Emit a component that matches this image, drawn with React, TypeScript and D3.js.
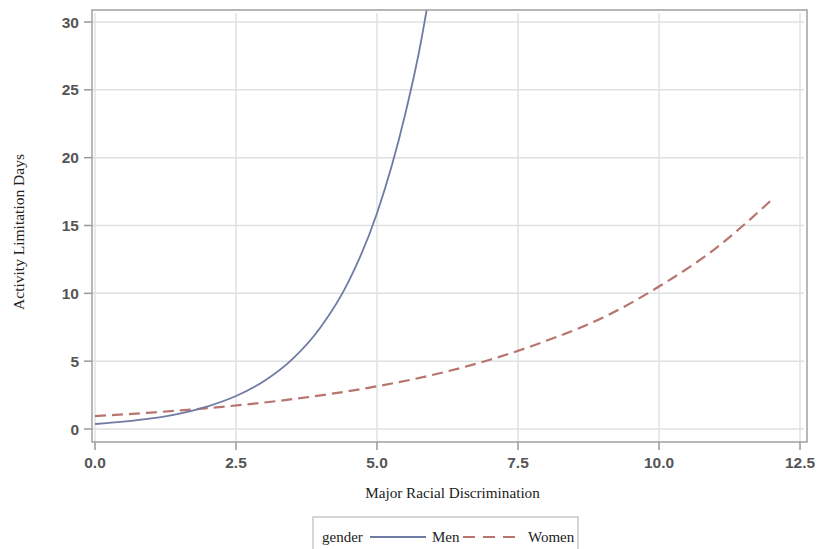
import React from "react";
import * as d3 from "d3";

const WIDTH = 824;
const HEIGHT = 549;

const xTicks = [0, 2.5, 5, 7.5, 10, 12.5];
const yTicks = [0, 5, 10, 15, 20, 25, 30];

// values
const menX = [0, 0.5, 1, 1.5, 2, 2.5, 3, 3.5, 4, 4.5, 5, 5.5, 5.75, 6];
const menY = [0.37, 0.54, 0.78, 1.14, 1.67, 2.43, 3.54, 5.15, 7.5, 10.9, 15.9, 23.2, 27.9, 33.8];
const womenX = [0, 1, 2, 3, 4, 5, 6, 7, 8, 9, 10, 11, 12];
const womenY = [0.95, 1.21, 1.54, 1.95, 2.48, 3.15, 4.0, 5.1, 6.5, 8.2, 10.5, 13.3, 16.9];

const frame = { left: 92, right: 807, top: 10, bottom: 442 };

const x = d3.scaleLinear().domain([0, 12.5]).range([95, 800]);
const y = d3.scaleLinear().domain([0, 30]).range([429, 22]);

const line = d3
  .line<[number, number]>()
  .x((d) => x(d[0]))
  .y((d) => y(d[1]))
  .curve(d3.curveMonotoneX);

const menPath = line(menX.map((v, i) => [v, menY[i]]));
const womenPath = line(womenX.map((v, i) => [v, womenY[i]]));

const MEN = "#6f7ba3";
const WOMEN = "#b8746f";
const TICK_FONT = "'Liberation Sans', Arial, sans-serif";
const TITLE_FONT = "'Liberation Serif', 'Times New Roman', serif";

export default function App() {
  return (
    <svg
      width={WIDTH}
      height={HEIGHT}
      style={{ position: "absolute", left: 0, top: 0, background: "#fff" }}
    >
      <defs>
        <clipPath id="plot">
          <rect
            x={frame.left}
            y={frame.top}
            width={frame.right - frame.left}
            height={frame.bottom - frame.top}
          />
        </clipPath>
      </defs>

      {/* grid */}
      {yTicks.map((t) => (
        <line
          key={"gy" + t}
          x1={frame.left}
          x2={frame.right - 3}
          y1={y(t)}
          y2={y(t)}
          stroke="#e0e0e0"
          strokeWidth={1.5}
        />
      ))}
      {xTicks.map((t) => (
        <line
          key={"gx" + t}
          x1={x(t)}
          x2={x(t)}
          y1={frame.top + 3}
          y2={frame.bottom}
          stroke="#e0e0e0"
          strokeWidth={1.5}
        />
      ))}

      {/* curves */}
      <g clipPath="url(#plot)">
        <path d={womenPath ?? ""} fill="none" stroke={WOMEN} strokeWidth={2.2} strokeDasharray="11 6" />
        <path d={menPath ?? ""} fill="none" stroke={MEN} strokeWidth={1.8} />
      </g>

      {/* frame */}
      <rect
        x={frame.left}
        y={frame.top}
        width={frame.right - frame.left}
        height={frame.bottom - frame.top}
        fill="none"
        stroke="#a0a0a0"
        strokeWidth={1.5}
      />

      {/* y axis */}
      {yTicks.map((t) => (
        <g key={"ty" + t}>
          <line x1={frame.left - 8} x2={frame.left} y1={y(t)} y2={y(t)} stroke="#999" strokeWidth={1.5} />
          <text
            x={frame.left - 13}
            y={y(t)}
            dy="0.36em"
            textAnchor="end"
            fontFamily={TICK_FONT}
            fontWeight="bold"
            fontSize={15.5}
            fill="#555"
          >
            {t}
          </text>
        </g>
      ))}

      {/* x axis */}
      {xTicks.map((t) => (
        <g key={"tx" + t}>
          <line x1={x(t)} x2={x(t)} y1={frame.bottom} y2={frame.bottom + 8} stroke="#999" strokeWidth={1.5} />
          <text
            x={x(t)}
            y={468}
            textAnchor="middle"
            fontFamily={TICK_FONT}
            fontWeight="bold"
            fontSize={15.5}
            fill="#555"
          >
            {t.toFixed(1)}
          </text>
        </g>
      ))}

      {/* axis titles */}
      <text
        x={(frame.left + frame.right) / 2 + 3}
        y={498}
        textAnchor="middle"
        fontFamily={TITLE_FONT}
        fontSize={15.2}
        fill="#222"
      >
        Major Racial Discrimination
      </text>
      <text
        transform={`translate(24 232) rotate(-90)`}
        textAnchor="middle"
        fontFamily={TITLE_FONT}
        fontSize={15.5}
        fill="#222"
      >
        Activity Limitation Days
      </text>

      {/* legend */}
      <rect x={313} y={517} width={265} height={44} fill="none" stroke="#c8c8c8" strokeWidth={1.5} />
      <text x={322} y={542} fontFamily={TITLE_FONT} fontSize={15} fill="#222">
        gender
      </text>
      <line x1={370} x2={426} y1={537} y2={537} stroke={MEN} strokeWidth={1.8} />
      <text x={432} y={542} fontFamily={TITLE_FONT} fontSize={15} fill="#222">
        Men
      </text>
      <line x1={463} x2={522} y1={537} y2={537} stroke={WOMEN} strokeWidth={2.2} strokeDasharray="12 8" />
      <text x={528} y={542} fontFamily={TITLE_FONT} fontSize={15} fill="#222">
        Women
      </text>
    </svg>
  );
}
